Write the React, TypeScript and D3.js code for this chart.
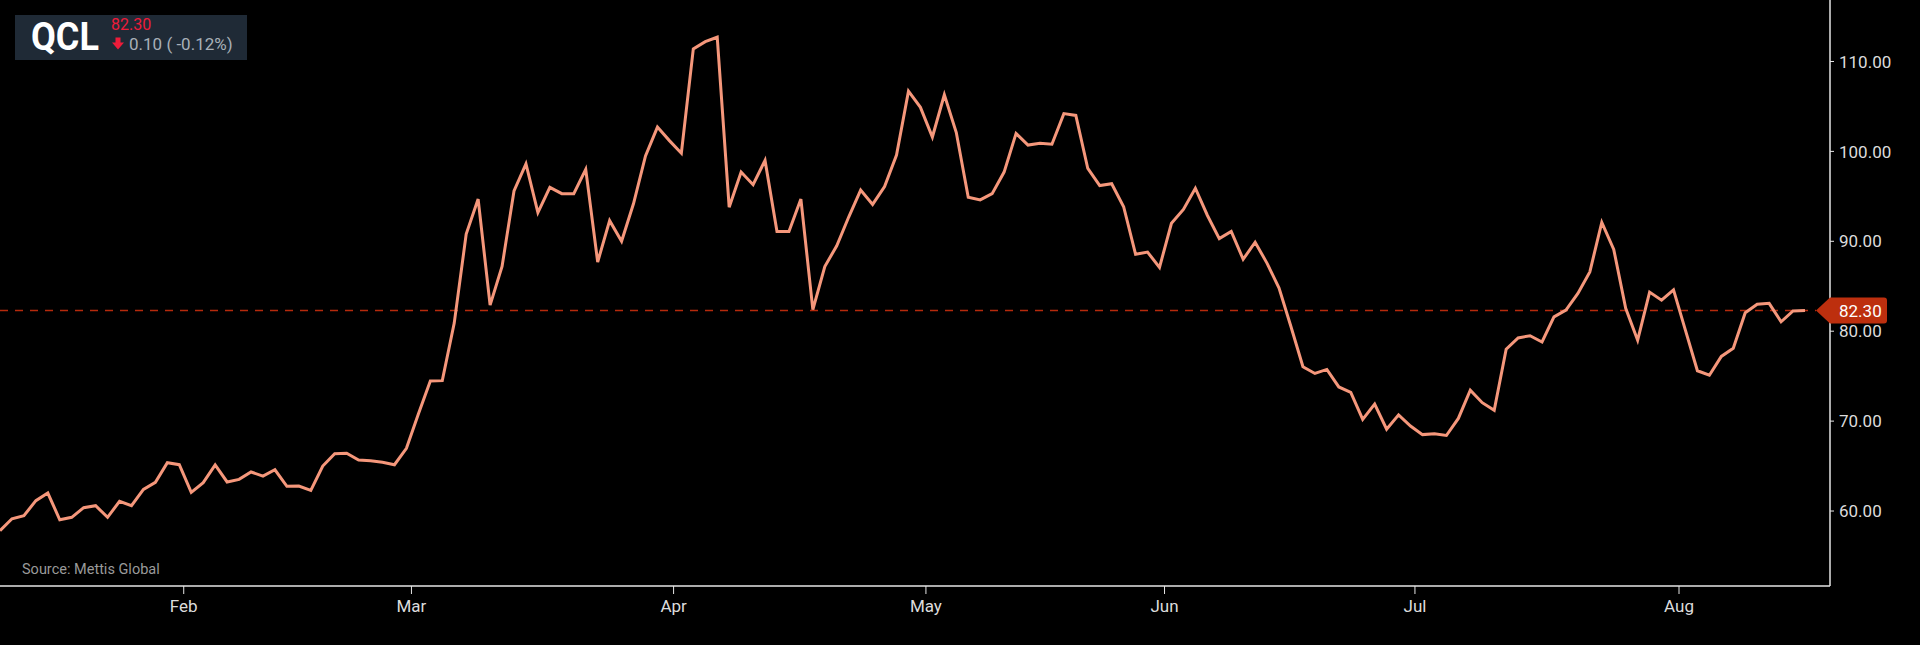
import React from "react";
import * as d3 from "d3";

const symbol = "QCL";
const lastPrice = 82.3;
const change = "0.10";
const changePct = "( -0.12%)";
const source = "Source: Mettis Global";

const prices: number[] = [
  57.81, 59.14, 59.48, 61.15, 62.0, 59.03, 59.3, 60.37, 60.59, 59.3,
  61.08, 60.59, 62.41, 63.19, 65.37, 65.15, 62.08, 63.15, 65.12, 63.23,
  63.52, 64.34, 63.89, 64.59, 62.75, 62.78, 62.3, 65.0, 66.38, 66.42,
  65.67, 65.6, 65.42, 65.15, 66.97, 70.8, 74.46, 74.5, 80.9, 90.8,
  94.7, 82.9, 87.2, 95.6, 98.6, 93.2, 96.0, 95.3, 95.3, 98.0,
  87.7, 92.3, 90.0, 94.2, 99.5, 102.7, 101.2, 99.8, 111.4, 112.2,
  112.7, 93.8, 97.7, 96.3, 99.0, 91.1, 91.1, 94.7, 82.4, 87.2,
  89.5, 92.7, 95.7, 94.1, 96.1, 99.6, 106.7, 104.9, 101.6, 106.3,
  102.1, 94.9, 94.6, 95.3, 97.7, 102.0, 100.7, 100.9, 100.8, 104.2,
  104.0, 98.1, 96.2, 96.4, 93.85, 88.55, 88.8, 87.1, 92.0, 93.55,
  95.9, 92.9, 90.3, 91.1, 88.0, 89.9, 87.55, 84.8, 80.5, 76.05,
  75.3, 75.75, 73.8, 73.2, 70.2, 71.9, 69.1, 70.7, 69.45, 68.5,
  68.6, 68.4, 70.3, 73.45, 72.05, 71.2, 78.0, 79.25, 79.5, 78.8,
  81.6, 82.35, 84.2, 86.6, 92.1, 89.1, 82.55, 79.0, 84.35, 83.45,
  84.6, 80.1, 75.6, 75.1, 77.2, 78.1, 82.05, 83.0, 83.1, 81.05,
  82.25, 82.3,
];

const monthLabels = ["Feb", "Mar", "Apr", "May", "Jun", "Jul", "Aug"];
const monthIndex = [15.37, 34.42, 56.35, 77.46, 97.42, 118.37, 140.46];

const yTicks = [60, 70, 80, 90, 100, 110];
const yDomain = [51.66, 116.84];

const W = 1920;
const H = 645;
const plotRight = 1830;
const plotBottom = 586;
const lastX = 1805;

export default function App() {
  const x = d3.scaleLinear().domain([0, prices.length - 1]).range([0, lastX]);
  const y = d3.scaleLinear().domain(yDomain).range([plotBottom, 0]);
  const line = d3
    .line<number>()
    .x((_, i) => x(i))
    .y((d) => y(d));
  const py = y(lastPrice);
  const tipX = 1816;
  const boxR = 1887;
  const half = 13;
  const tagPath = `M${tipX},${py} L${plotRight},${py - half} L${boxR - 3},${py - half} Q${boxR},${py - half} ${boxR},${py - half + 3} L${boxR},${py + half - 3} Q${boxR},${py + half} ${boxR - 3},${py + half} L${plotRight},${py + half} Z`;
  const font = "Roboto, 'Noto Sans', sans-serif";

  return (
    <svg
      width={W}
      height={H}
      style={{ position: "absolute", left: 0, top: 0, background: "#000" }}
      fontFamily={font}
    >
      <rect x={0} y={0} width={W} height={H} fill="#000" />
      <line
        x1={0}
        x2={tipX}
        y1={py}
        y2={py}
        stroke="#b52a0c"
        strokeWidth={1.4}
        strokeDasharray="8,7"
      />
      <path
        d={line(prices) || ""}
        fill="none"
        stroke="#f5977b"
        strokeWidth={3}
        strokeLinejoin="miter"
      />
      <line x1={0} x2={plotRight} y1={plotBottom} y2={plotBottom} stroke="#e6e6e6" strokeWidth={1.5} />
      <line x1={plotRight} x2={plotRight} y1={0} y2={plotBottom} stroke="#e6e6e6" strokeWidth={1.5} />
      {monthLabels.map((m, i) => {
        const tx = x(monthIndex[i]);
        return (
          <g key={m}>
            <line x1={tx} x2={tx} y1={plotBottom} y2={plotBottom + 8} stroke="#e6e6e6" strokeWidth={1} />
            <text x={tx} y={612} textAnchor="middle" fill="#dcdcdc" fontSize={17}>
              {m}
            </text>
          </g>
        );
      })}
      {yTicks.map((t) => (
        <g key={t}>
          <line x1={plotRight} x2={plotRight + 4} y1={y(t)} y2={y(t)} stroke="#e6e6e6" strokeWidth={1} />
          <text x={1839} y={y(t)} dy="0.36em" fill="#dcdcdc" fontSize={17}>
            {t.toFixed(2)}
          </text>
        </g>
      ))}
      <path d={tagPath} fill="#bd2f0e" />
      <text x={1839} y={py} dy="0.36em" fill="#ffffff" fontSize={17}>
        {lastPrice.toFixed(2)}
      </text>
      <text x={22} y={574} fill="#9a9a9a" fontSize={14.5}>
        {source}
      </text>
      <rect x={15} y={15} width={232} height={45} fill="#1f2a36" />
      <text
        x={31}
        y={50}
        fill="#ffffff"
        fontSize={39}
        fontWeight="bold"
        textLength={68}
        lengthAdjust="spacingAndGlyphs"
      >
        {symbol}
      </text>
      <text x={111} y={29.5} fill="#ee1c3a" fontSize={16}>
        {lastPrice.toFixed(2)}
      </text>
      <path d="M115.5,37.5 L120.5,37.5 L120.5,42.5 L124,42.5 L118,49.5 L112,42.5 L115.5,42.5 Z" fill="#ee1c3a" />
      <text x={129} y={49.5} fill="#a8b0b8" fontSize={17}>
        {change} {changePct}
      </text>
    </svg>
  );
}
